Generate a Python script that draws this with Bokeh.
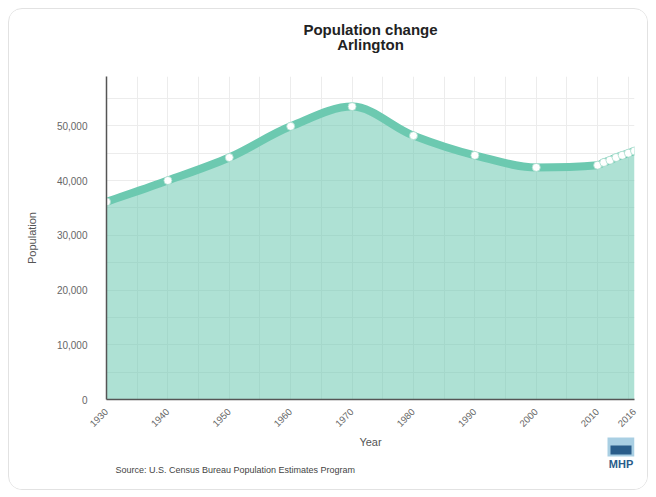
from bokeh.plotting import figure
from bokeh.layouts import column
from bokeh.models import FixedTicker, NumeralTickFormatter, Range1d, ColumnDataSource
from bokeh.embed import file_html
from bokeh.resources import INLINE
from bokeh.core.properties import value
import math

# ---- data ----
years = [1930, 1940, 1950, 1960, 1970, 1980, 1990, 2000, 2010, 2011, 2012, 2013, 2014, 2015, 2016]
population = [36100, 40000, 44200, 49900, 53500, 48200, 44600, 42400, 42800, 43300, 43700, 44200, 44600, 45000, 45400]
x_ticks = [1930, 1940, 1950, 1960, 1970, 1980, 1990, 2000, 2010, 2016]
y_ticks = [0, 10000, 20000, 30000, 40000, 50000]

title_line1 = "Population change"
title_line2 = "Arlington"
x_title = "Year"
y_title = "Population"
source_note = "Source: U.S. Census Bureau Population Estimates Program"
logo_text = "MHP"

LINE = "#6cc9b0"
FONT = "Liberation Sans"
W = 638
LEFT, RIGHT = 97, 13          # borders shared by all stacked figures (frames are aligned)


def blank(h):
    # header/footer canvas whose x data units equal canvas pixels
    f = figure(width=W, height=h, output_backend="svg", toolbar_location=None,
               x_range=Range1d(LEFT, W - RIGHT), y_range=Range1d(0, h),
               x_axis_type=None, y_axis_type=None,
               min_border_left=LEFT, min_border_right=RIGHT,
               min_border_top=0, min_border_bottom=0)
    f.grid.visible = False
    f.outline_line_color = None
    f.background_fill_color = "white"
    f.border_fill_color = "white"
    return f


# ---- header ----
header = blank(67)
header.text(x=[361, 361], y=[47, 32], text=[title_line1, title_line2],
            text_font=value(FONT), text_font_size="15px", text_font_style="bold",
            text_color="#222222", text_align="center", text_baseline="middle")

# ---- main chart ----
p = figure(width=W, height=356, output_backend="svg", toolbar_location=None,
           x_range=Range1d(1930, 2016), y_range=Range1d(0, 59000),
           min_border_left=LEFT, min_border_right=RIGHT, min_border_top=0, min_border_bottom=27)
p.outline_line_color = None
p.background_fill_color = "white"
p.border_fill_color = "white"

minor = list(range(1930, 2017, 5)) + [2016]
p.xgrid.ticker = FixedTicker(ticks=minor)
p.ygrid.ticker = FixedTicker(ticks=list(range(0, 59001, 5000)))
p.xgrid.grid_line_color = "#ececec"
p.ygrid.grid_line_color = "#ececec"

p.xaxis.ticker = FixedTicker(ticks=x_ticks)
p.yaxis.ticker = FixedTicker(ticks=y_ticks)
p.yaxis.formatter = NumeralTickFormatter(format="0,0")
for ax in (p.xaxis[0], p.yaxis[0]):
    ax.axis_line_color = "#555555"
    ax.axis_line_width = 1.5
    ax.major_tick_line_color = None
    ax.minor_tick_line_color = None
    ax.major_label_text_font = FONT
    ax.major_label_text_color = "#666666"
    ax.axis_label_text_font = FONT
    ax.axis_label_text_font_style = "normal"
    ax.axis_label_text_color = "#555555"
p.yaxis.major_label_text_font_size = "10px"
p.xaxis.major_label_text_font_size = "9.5px"
p.yaxis.major_label_standoff = 13
p.yaxis.axis_label = y_title
p.yaxis.axis_label_text_font_size = "11px"
p.yaxis.axis_label_standoff = 16
p.xaxis.major_label_orientation = math.pi / 4
p.xaxis.major_label_standoff = 5

src = ColumnDataSource(dict(x=years, y=population, y0=[0] * len(years)))
p.varea(x="x", y1="y0", y2="y", source=src, fill_color=LINE, fill_alpha=0.55)

# smooth (monotone cubic) line through the data points
n = len(years)
d = [(population[i + 1] - population[i]) / (years[i + 1] - years[i]) for i in range(n - 1)]
m = [0.0] * n
m[0] = d[0]
m[-1] = d[-1]
for i in range(1, n - 1):
    if d[i - 1] * d[i] <= 0:
        m[i] = 0.0
    else:
        h0 = years[i] - years[i - 1]
        h1 = years[i + 1] - years[i]
        w1 = 2 * h1 + h0
        w2 = h1 + 2 * h0
        m[i] = (w1 + w2) / (w1 / d[i - 1] + w2 / d[i])
bz = dict(x0=[], y0=[], x1=[], y1=[], cx0=[], cy0=[], cx1=[], cy1=[])
for i in range(n - 1):
    h = years[i + 1] - years[i]
    bz["x0"].append(years[i]); bz["y0"].append(population[i])
    bz["x1"].append(years[i + 1]); bz["y1"].append(population[i + 1])
    bz["cx0"].append(years[i] + h / 3); bz["cy0"].append(population[i] + m[i] * h / 3)
    bz["cx1"].append(years[i + 1] - h / 3); bz["cy1"].append(population[i + 1] - m[i + 1] * h / 3)
p.bezier(x0="x0", y0="y0", x1="x1", y1="y1", cx0="cx0", cy0="cy0", cx1="cx1", cy1="cy1",
         source=ColumnDataSource(bz), line_color=LINE, line_width=8, line_cap="round")

p.scatter(x="x", y="y", source=src, size=8, fill_color="white",
          line_color="#a8dccd", line_width=0.8)

# ---- footer: axis title, source note, logo ----
footer = blank(57)
footer.text(x=[361], y=[48], text=[x_title], text_font=value(FONT), text_font_size="11px",
            text_color="#555555", text_align="center", text_baseline="middle")
footer.text(x=[106], y=[20], text=[source_note], text_font=value(FONT), text_font_size="9px",
            text_color="#444444", text_align="left", text_baseline="middle")
footer.quad(left=[598], right=[625], bottom=[33], top=[52], fill_color="#a9cfe3", line_color=None)
footer.quad(left=[601], right=[622], bottom=[35], top=[44], fill_color="#2a5d8a", line_color=None)
footer.text(x=[611.5], y=[26], text=[logo_text], text_font=value(FONT), text_font_size="11px",
            text_font_style="bold", text_color="#2a5d8a", text_align="center",
            text_baseline="middle")

layout = column(header, p, footer, spacing=0)
layout.margin = (8, 8, 8, 8)
layout.styles = {"border": "1px solid #e2e2e2", "border-radius": "14px",
                 "overflow": "hidden", "background-color": "white"}

open("out.html", "w").write(file_html(layout, INLINE))
